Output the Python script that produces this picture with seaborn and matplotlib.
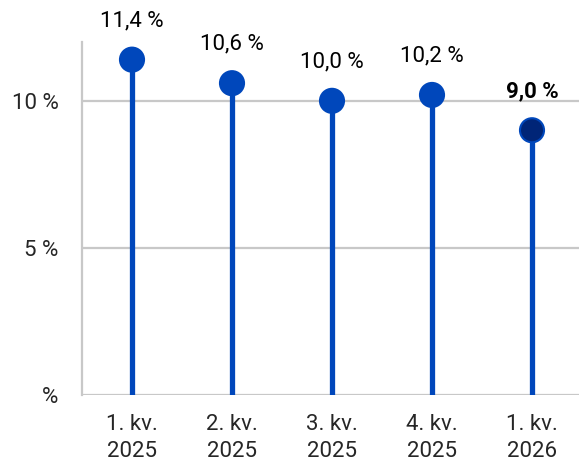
import matplotlib
matplotlib.use("Agg")
import matplotlib.pyplot as plt
import pandas as pd
import seaborn as sns

# data
kvartaler = ["1. kv.\n2025", "2. kv.\n2025", "3. kv.\n2025", "4. kv.\n2025", "1. kv.\n2026"]
verdier = [11.4, 10.6, 10.0, 10.2, 9.0]
etiketter = ["11,4 %", "10,6 %", "10,0 %", "10,2 %", "9,0 %"]
y_ticks = [0, 5, 10]
y_tick_labels = ["%", "5 %", "10 %"]

BLA = "#0047BB"
MORK = "#002577"
GRA = "#C8C8C8"
FS = 16

sns.set_style("white")
plt.rcParams["font.family"] = ["Roboto", "DejaVu Sans"]

df = pd.DataFrame({"kvartal": kvartaler, "verdi": verdier})
df["x"] = range(len(df))
df["siste"] = df["x"] == df["x"].max()

fig = plt.figure(figsize=(5.79, 4.62), dpi=100)
ax = fig.add_axes([82 / 579, 1 - 395 / 462, 1 - 82 / 579, (395 - 42) / 462])

# gridlines
for t in y_ticks:
    ax.axhline(t, color=GRA, lw=1.6, zorder=0)

# stems
ax.vlines(df["x"], 0, df["verdi"], color=BLA, lw=3.8, zorder=2)

sns.scatterplot(data=df, x="x", y="verdi", hue="siste",
                palette={False: BLA, True: MORK}, s=300,
                edgecolor=BLA, linewidth=1.5, legend=False, zorder=3, ax=ax)

for i, (v, lab) in enumerate(zip(verdier, etiketter)):
    ax.annotate(lab, (i, v), xytext=(0, 28), textcoords="offset points",
                ha="center", va="center", fontsize=FS,
                fontweight="bold" if i == len(verdier) - 1 else "normal",
                color="black")

ax.set_xlim(-0.5, 4.47)
ax.set_ylim(0, 12)
ax.set_xticks(df["x"])
ax.set_xticklabels(kvartaler, fontsize=FS, linespacing=1.35)
ax.set_yticks(y_ticks)
ax.set_yticklabels(y_tick_labels, fontsize=FS)
ax.tick_params(axis="x", length=0, pad=14)
ax.tick_params(axis="y", length=5, width=1.6, color=GRA, pad=12)
ax.set_xlabel("")
ax.set_ylabel("")

for s in ["top", "right", "bottom"]:
    ax.spines[s].set_visible(False)
ax.spines["left"].set_color(GRA)
ax.spines["left"].set_linewidth(1.6)

fig.savefig("out.png", dpi=100)
